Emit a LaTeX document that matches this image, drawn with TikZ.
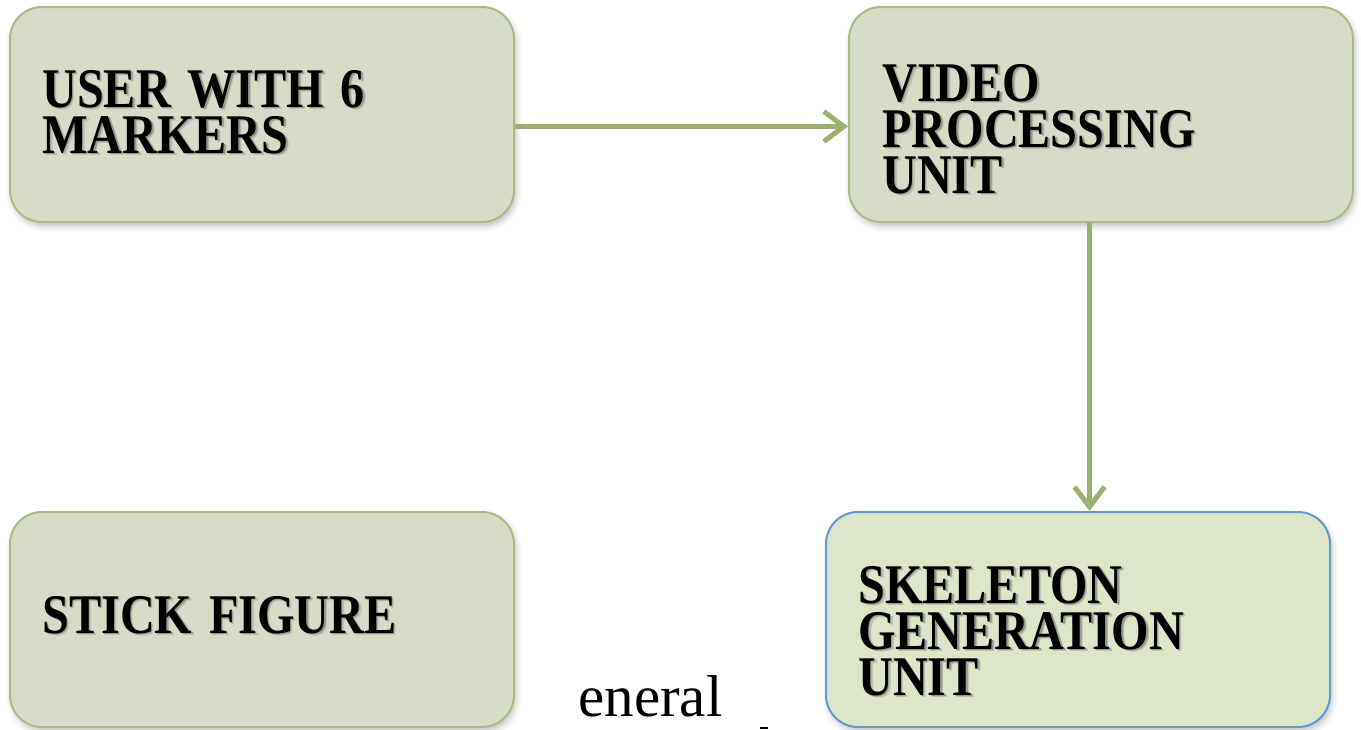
\documentclass[tikz,border=0pt]{standalone}
\usepackage{fontspec}
\setmainfont{Liberation Serif}
\newfontfamily\labelfont[FakeStretch=0.86]{Liberation Serif}
\usetikzlibrary{arrows.meta,shadows.blur}

\definecolor{boxfill}{HTML}{D7DCC9}
\definecolor{boxline}{HTML}{A9BC85}
\definecolor{bluefill}{HTML}{DEE6C9}
\definecolor{blueline}{HTML}{6496D0}
\definecolor{arrowc}{HTML}{9BB070}
\definecolor{shadeA}{HTML}{BEC2B3}
\definecolor{shadeB}{HTML}{979A8E}

\tikzset{
  x=0.5pt, y=-0.5pt,
  box/.style={draw=boxline, fill=boxfill, line width=1pt,
    rounded corners=16pt, minimum width=252pt, minimum height=107.5pt,
    inner sep=0pt,
    blur shadow={shadow xshift=1pt, shadow yshift=-2pt,
      shadow blur radius=3pt, shadow opacity=25}},
  bluebox/.style={box, draw=blueline, fill=bluefill},
  lbl/.style={anchor=base west, inner sep=0pt,
    font=\labelfont\bfseries\fontsize{28}{23}\selectfont},
  conn/.style={draw=arrowc, line width=2.5pt,
    -{Straight Barb[length=10pt,width=15pt]}},
}

% one line of bold text with a soft shadow set behind it
\newcommand\shadowed[1]{\leavevmode
  \rlap{\kern1.3pt\raisebox{-1.3pt}{\color{shadeA}#1}}%
  \rlap{\kern0.7pt\raisebox{-0.7pt}{\color{shadeB}#1}}#1}
% a block of such lines; its baseline is that of the first line
\newcommand\block[1]{\parbox[t]{180pt}{\lineskiplimit=-\maxdimen
  \spaceskip=0.30em plus 0.1em\relax #1}}

\begin{document}
\begin{tikzpicture}
\useasboundingbox (0,0) rectangle (1361,729);

% boxes
\node[box] (user) at (262,114.5) {};
\node[box] (video) at (1101,114.5) {};
\node[box] (stick) at (262,619.5) {};
\node[bluebox] (skel) at (1078,619.5) {};

% labels
\node[lbl] (userlbl) at (42,107) {\block{\shadowed{USER WITH 6}\\\shadowed{MARKERS}}};
\node[lbl] (videolbl) at (882,101) {\block{\shadowed{VIDEO}\\\shadowed{PROCESSING}\\\shadowed{UNIT}}};
\node[lbl] (sticklbl) at (42,633) {\block{\shadowed{STICK FIGURE}}};
\node[lbl] (skellbl) at (858,603) {\block{\shadowed{SKELETON}\\\shadowed{GENERATION}\\\shadowed{UNIT}}};

% connectors
\draw[conn] ([yshift=-6pt]user.east) -- ([yshift=-6pt]video.west);
\draw[conn] ([xshift=-5.75pt]video.south) -- ([xshift=-5.75pt]video.south |- skel.north);

% body text below the diagram
\node[anchor=base west, inner sep=0pt, font=\fontsize{29.5}{29.5}\selectfont] (body) at (578,716) {eneral};
\fill (760,727) rectangle (768,729);
\end{tikzpicture}
\end{document}
